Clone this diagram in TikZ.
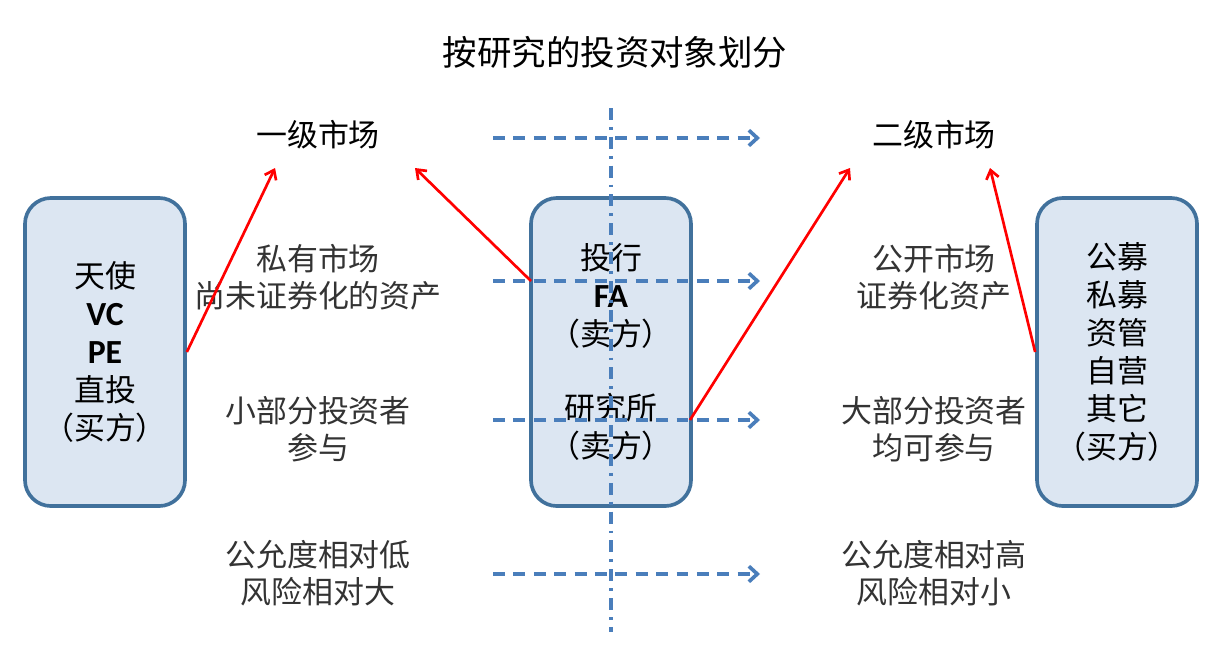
\documentclass[tikz,border=0pt]{standalone}
\usepackage{fontspec}
\setmainfont{Noto Sans CJK SC}
\newfontfamily\latinfont{Carlito}
\usetikzlibrary{arrows.meta}
\definecolor{boxline}{HTML}{41719C}
\definecolor{boxfill}{HTML}{DCE6F2}
\definecolor{flowblue}{HTML}{4A7EBB}
\newcommand{\lat}[1]{{\latinfont\bfseries\fontsize{24}{27}\selectfont #1}}

\begin{document}
\begin{tikzpicture}[x=0.025cm, y=-0.025cm,
    party/.style={draw=boxline, fill=boxfill, line width=2.6pt, rounded corners=0.65cm,
      minimum width=4cm, minimum height=7.7cm, align=center,
      font=\fontsize{22}{27}\selectfont},
    note/.style={align=center, text=black!80, font=\fontsize{22}{26.5}\selectfont},
    market/.style={font=\fontsize{22}{26}\selectfont},
    flow/.style={draw=flowblue, line width=2.6pt, dash pattern=on 8.5pt off 6pt,
      -{Straight Barb[length=6pt,width=11pt]}},
    axis/.style={draw=flowblue, line width=2.2pt, dash pattern=on 8.5pt off 5pt on 2pt off 5pt},
    link/.style={draw=red, line width=1.9pt, -{Straight Barb[length=6pt,width=9pt]}}]
  \useasboundingbox (0,0) rectangle (1222,658);

  \node (title) at (615,52) {\fontsize{24.5}{28}\selectfont 按研究的投资对象划分};

  % the three parties
  \node[party] (buyL) at (105,352) {天使\\\lat{VC}\\\lat{PE}\\直投\\（买方）};
  \node[party] (seller) at (611,352) {投行\\\lat{FA}\\（卖方）\\[26pt]研究所\\（卖方）};
  \node[party] (buyR) at (1117,352) {公募\\私募\\资管\\自营\\其它\\（买方）};

  % the two markets
  \node[market] (prim) at (318,135) {一级市场};
  \node[market] (sec) at (934,135) {二级市场};

  \node[note] (privL) at (318,277) {私有市场\\尚未证券化的资产};
  \node[note] (fewL) at (318,429) {小部分投资者\\参与};
  \node[note] (fairL) at (318,573) {公允度相对低\\风险相对大};
  \node[note] (pubR) at (934,277) {公开市场\\证券化资产};
  \node[note] (manyR) at (934,429) {大部分投资者\\均可参与};
  \node[note] (fairR) at (934,573) {公允度相对高\\风险相对小};

  % axis and flows
  \coordinate (axtop) at (611,108);
  \coordinate (axbot) at (611,632);
  \draw[axis] (axtop) -- (axbot);
  \foreach \y/\n in {138/a,281/b,420/c,574/d} {
    \coordinate (s\n) at (493,\y);
    \coordinate (e\n) at (760,\y);
    \draw[flow] (s\n) -- (e\n);
  }

  % red links
  \coordinate (faL) at (531,281);
  \coordinate (resR) at (690,420);
  \coordinate (t1) at (275,168);
  \coordinate (t2) at (415,168);
  \coordinate (t3) at (850,168);
  \coordinate (t4) at (990,168);
  \draw[link] (buyL.east) -- (t1);
  \draw[link] (faL) -- (t2);
  \draw[link] (resR) -- (t3);
  \draw[link] (buyR.west) -- (t4);
\end{tikzpicture}
\end{document}
